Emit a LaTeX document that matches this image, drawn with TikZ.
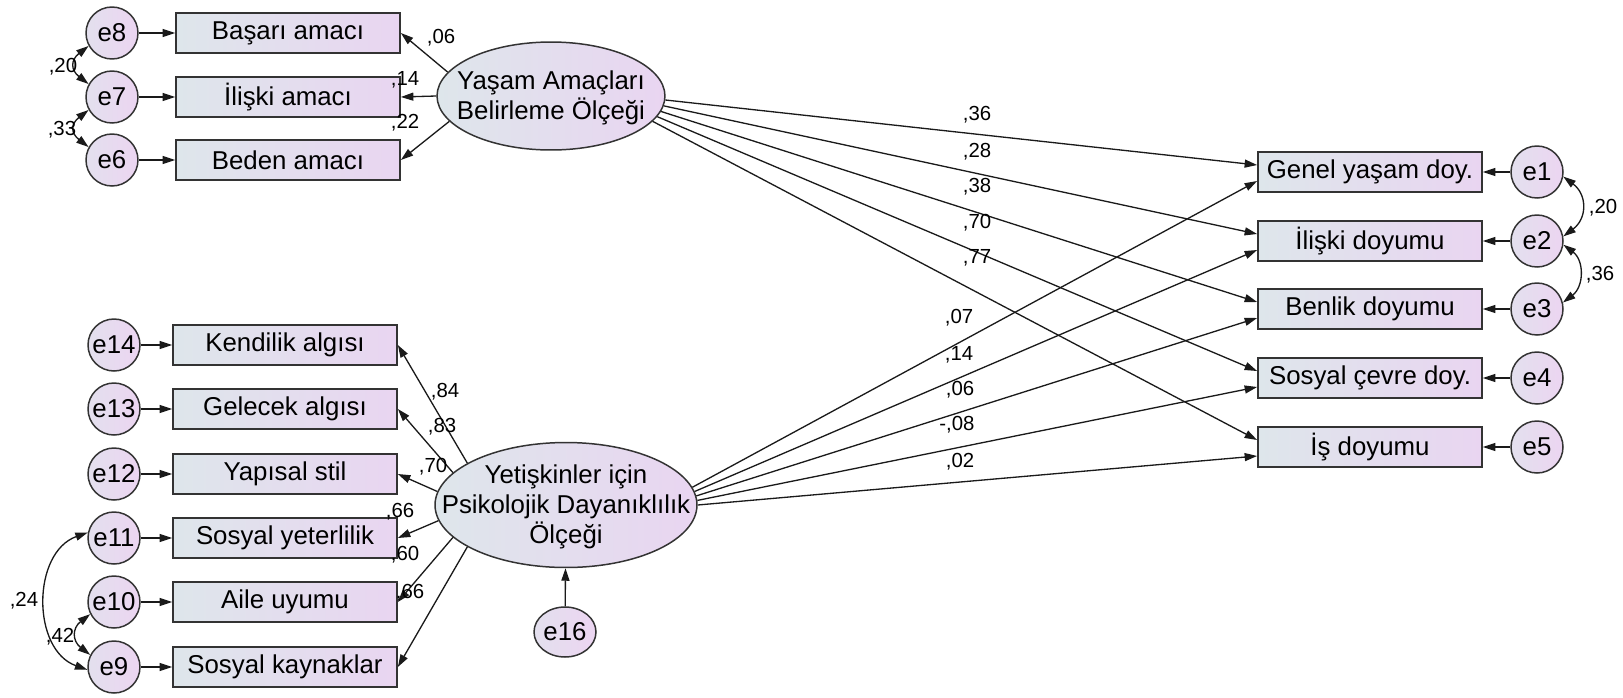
\documentclass[tikz,border=0pt]{standalone}
\usepackage{fontspec}
\setmainfont{Liberation Sans}
\usetikzlibrary{arrows.meta, shapes.geometric, calc}
\definecolor{cboxl}{HTML}{DEE6EB}
\definecolor{cboxr}{HTML}{E9D5F1}
\definecolor{cerrl}{HTML}{E3E0EE}
\definecolor{cerrr}{HTML}{ECD5F1}
\definecolor{cedge}{HTML}{333333}
\definecolor{cline}{HTML}{1A1A1A}
\tikzset{
  every picture/.style={line width=0.75pt},
  var/.style={draw=cedge, line width=1pt, left color=cboxl, right color=cboxr, minimum width=4.48cm, minimum height=0.8cm, inner sep=0pt, font=\fontsize{14.7}{17}\selectfont},
  err/.style={circle, draw=cedge, line width=0.85pt, left color=cerrl, right color=cerrr, minimum size=1.04cm, inner sep=0pt, font=\fontsize{14.7}{17}\selectfont},
  latent/.style={ellipse, draw=cedge, line width=0.85pt, left color=cboxl, right color=cboxr, inner sep=0pt},
  lattext/.style={align=center, inner sep=0pt, font=\fontsize{14.7}{17}\selectfont},
  arrow/.style={draw=cline, -{Triangle[length=2.5mm, width=1.6mm]}},
  cov/.style={draw=cline, {Triangle[length=2.5mm, width=1.6mm]}-{Triangle[length=2.5mm, width=1.6mm]}},
  coef/.style={font=\fontsize{11.6}{13}\selectfont, inner sep=0pt},
}

\begin{document}
\begin{tikzpicture}[x=0.02cm, y=-0.02cm]
  \useasboundingbox (0,0) rectangle (1623,697);

  % Yasam Amaclari Belirleme Olcegi
  \node[latent, minimum width=4.56cm, minimum height=2.16cm] (yasam) at (551,96) {};
  \node[lattext] (yasamtxt) at (551,98) {Yaşam Amaçları\\Belirleme Ölçeği};
  \node[var] (basari) at (288,33) {Başarı amacı};
  \node[var] (iliski) at (288,97) {İlişki amacı};
  \node[var] (beden) at (288,160) {Beden amacı};
  \node[err] (e8) at (112,33) {e8};
  \node[err] (e7) at (112,97) {e7};
  \node[err] (e6) at (112,160) {e6};

  % Yetiskinler icin Psikolojik Dayaniklilik Olcegi
  \node[latent, minimum width=5.24cm, minimum height=2.5cm] (yetiskin) at (566,505) {};
  \node[lattext] (yetiskintxt) at (566,507) {Yetişkinler için\\Psikolojik Dayanıklılık\\Ölçeği};
  \node[var] (kendilik) at (285,345) {Kendilik algısı};
  \node[var] (gelecek) at (285,409) {Gelecek algısı};
  \node[var] (yapisal) at (285,474) {Yapısal stil};
  \node[var] (yeterlilik) at (285,538) {Sosyal yeterlilik};
  \node[var] (aile) at (285,602) {Aile uyumu};
  \node[var] (kaynak) at (285,667) {Sosyal kaynaklar};
  \node[err] (e14) at (114,345) {e14};
  \node[err] (e13) at (114,409) {e13};
  \node[err] (e12) at (114,474) {e12};
  \node[err] (e11) at (114,538) {e11};
  \node[err] (e10) at (114,602) {e10};
  \node[err] (e9) at (114,667) {e9};
  \node[err, ellipse, minimum width=1.24cm, minimum height=1cm] (e16) at (565,632) {e16};

  % doyum
  \node[var] (genel) at (1370,172) {Genel yaşam doy.};
  \node[var] (iliskid) at (1370,241) {İlişki doyumu};
  \node[var] (benlik) at (1370,309) {Benlik doyumu};
  \node[var] (cevre) at (1370,378) {Sosyal çevre doy.};
  \node[var] (is) at (1370,447) {İş doyumu};
  \node[err] (e1) at (1537,172) {e1};
  \node[err] (e2) at (1537,241) {e2};
  \node[err] (e3) at (1537,309) {e3};
  \node[err] (e4) at (1537,378) {e4};
  \node[err] (e5) at (1537,447) {e5};

  % errors
  \foreach \e/\v in {e8/basari, e7/iliski, e6/beden, e14/kendilik, e13/gelecek, e12/yapisal, e11/yeterlilik, e10/aile, e9/kaynak, e1/genel, e2/iliskid, e3/benlik, e4/cevre, e5/is}
    \draw[arrow] (\e) -- (\v);
  \draw[arrow] (e16) -- (yetiskin);

  % loadings
  \draw[arrow] (yasam.167) -- (basari.east);
  \draw[arrow] (yasam.180) -- (iliski.east);
  \draw[arrow] (yasam.194) -- (beden.east);
  \draw[arrow] (yetiskin.157) -- (kendilik.east);
  \draw[arrow] (yetiskin.164) -- (gelecek.east);
  \draw[arrow] (yetiskin.174) -- (yapisal.east);
  \draw[arrow] (yetiskin.187) -- (yeterlilik.east);
  \draw[arrow] (yetiskin.196) -- (aile.east);
  \draw[arrow] (yetiskin.203) -- (kaynak.east);

  % paths
  \draw[arrow] (yasam.358) -- ($(genel.west)+(0,-7)$);
  \draw[arrow] (yasam.355) -- ($(iliskid.west)+(0,-7)$);
  \draw[arrow] (yasam.352) -- ($(benlik.west)+(0,-7)$);
  \draw[arrow] (yasam.349) -- ($(cevre.west)+(0,-7)$);
  \draw[arrow] (yasam.346) -- ($(is.west)+(0,-7)$);
  \draw[arrow] (yetiskin.8) -- ($(genel.west)+(0,9)$);
  \draw[arrow] (yetiskin.6) -- ($(iliskid.west)+(0,9)$);
  \draw[arrow] (yetiskin.4) -- ($(benlik.west)+(0,9)$);
  \draw[arrow] (yetiskin.2) -- ($(cevre.west)+(0,9)$);
  \draw[arrow] (yetiskin.0.5) -- ($(is.west)+(0,9)$);

  % covariances
  \draw[cov] (e8.209) .. controls +(-18,14) and +(-18,-14) .. (e7.151);
  \draw[cov] (e7.209) .. controls +(-18,14) and +(-18,-14) .. (e6.151);
  \draw[cov] (e10.207) .. controls +(-18,14) and +(-18,-14) .. (e9.153);
  \draw[cov] (e11.168) .. controls +(-56,20) and +(-56,-20) .. (e9.186);
  \draw[cov] (e1.350) .. controls +(24,18) and +(24,-18) .. (e2.10);
  \draw[cov] (e2.352) .. controls +(21,16) and +(21,-16) .. (e3.14);

  % coefficients
  \node[coef] (c06) at (441,38) {,06};
  \node[coef] (c14) at (405,80) {,14};
  \node[coef] (c22) at (405,123) {,22};
  \node[coef] (r20) at (63,67) {,20};
  \node[coef] (r33) at (62,130) {,33};
  \node[coef] (c84) at (445,392) {,84};
  \node[coef] (c83) at (442,427) {,83};
  \node[coef] (c70) at (433,467) {,70};
  \node[coef] (c66a) at (400,512) {,66};
  \node[coef] (c60) at (405,555) {,60};
  \node[coef] (c66b) at (410,593) {,66};
  \node[coef] (r24) at (24,601) {,24};
  \node[coef] (r42) at (60,637) {,42};
  \node[coef] (p36) at (977,115) {,36};
  \node[coef] (p28) at (977,152) {,28};
  \node[coef] (p38) at (977,187) {,38};
  \node[coef] (p70) at (977,223) {,70};
  \node[coef] (p77) at (977,258) {,77};
  \node[coef] (q07) at (959,318) {,07};
  \node[coef] (q14) at (959,355) {,14};
  \node[coef] (q06) at (960,390) {,06};
  \node[coef] (q08) at (957,425) {-,08};
  \node[coef] (q02) at (960,462) {,02};
  \node[coef] (r20b) at (1603,208) {,20};
  \node[coef] (r36) at (1600,275) {,36};
\end{tikzpicture}
\end{document}
